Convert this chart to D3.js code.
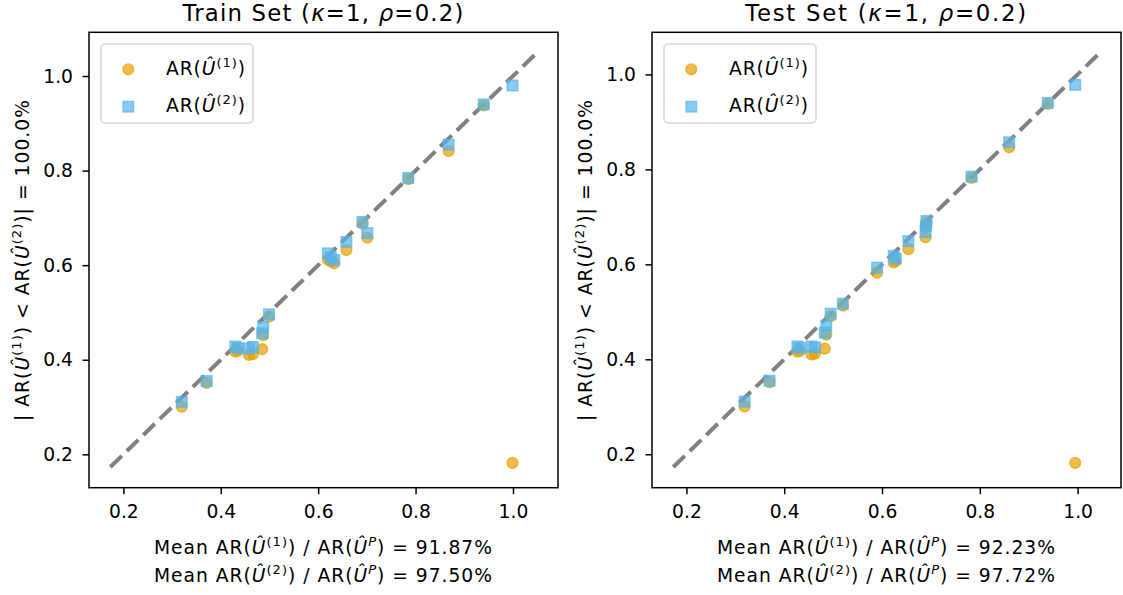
<!DOCTYPE html>
<html>
<head>
<meta charset="utf-8">
<script src="https://cdn.jsdelivr.net/npm/d3@7"></script>
<style>
  html, body { margin: 0; padding: 0; background: #fff; }
  svg { display: block; font-family: "DejaVu Sans", sans-serif; }
</style>
</head>
<body>
<svg id="chart" width="1123" height="595"></svg>
<script>
// ---- data -------------------------------------------------------------
// Accuracy ratio of the reference predictor (x) and of the two estimators (y)
const trainBase = [0.320, 0.371, 0.430, 0.435, 0.458, 0.466, 0.485, 0.487, 0.499, 0.620, 0.626, 0.633, 0.658, 0.691, 0.701, 0.785, 0.868, 0.940, 0.999];
const trainU1   = [0.301, 0.351, 0.417, 0.419, 0.410, 0.412, 0.4225, 0.452, 0.491, 0.612, 0.608, 0.604, 0.632, 0.688, 0.658, 0.782, 0.8415, 0.938, 0.182];
const trainU2   = [0.311, 0.355, 0.428, 0.425, 0.424, 0.427, 0.456, 0.469, 0.496, 0.625, 0.617, 0.611, 0.649, 0.6915, 0.668, 0.7845, 0.855, 0.940, 0.980];

const testBase  = [0.319, 0.370, 0.427, 0.432, 0.456, 0.463, 0.483, 0.486, 0.495, 0.520, 0.590, 0.624, 0.628, 0.654, 0.689, 0.690, 0.691, 0.783, 0.860, 0.939, 0.995];
const testU1    = [0.301, 0.352, 0.416, 0.418, 0.410, 0.412, 0.4225, 0.452, 0.491, 0.513, 0.5825, 0.604, 0.607, 0.632, 0.657, 0.680, 0.688, 0.782, 0.8465, 0.938, 0.182];
const testU2    = [0.311, 0.355, 0.427, 0.424, 0.427, 0.425, 0.456, 0.471, 0.496, 0.517, 0.593, 0.618, 0.612, 0.649, 0.668, 0.681, 0.6915, 0.7845, 0.857, 0.940, 0.978];

// extent of the y = x reference line in each panel
const trainDiag = [0.1732, 1.0487];
const testDiag  = [0.1732, 1.0451];

const tickValues = [0.2, 0.4, 0.6, 0.8, 1.0];
const panelTitles = ["Train", "Test"];
const meanU1 = ["91.87%", "92.23%"];
const meanU2 = ["97.50%", "97.72%"];
const shareAbove = "100.0%";

// ---- layout -----------------------------------------------------------
const svg = d3.select("#chart");
const FS = 18.7;          // tick / label font size
const TITLE_FS = 22.8;
const BOX = { w: 469, top: 32.3, h: 455.4 };
const panelX = [89, 652];
const ORANGE = "#E69F00", BLUE = "#56B4E9";

// small mathtext-like writer: parts = [text, style] with style n | i | s | si
function mathText(sel, parts, fs) {
  let raised = false;
  const shift = 0.42 * fs;
  parts.forEach(([t, st]) => {
    const sup = st === "s" || st === "si";
    const ts = sel.append("tspan").text(t);
    if (sup && !raised) { ts.attr("dy", -shift); raised = true; }
    else if (!sup && raised) { ts.attr("dy", shift); raised = false; }
    if (sup) ts.attr("font-size", fs * 0.7);
    if (st === "i" || st === "si") ts.attr("font-style", "italic");
  });
  return sel;
}

// widen the glyph spacing so a math label occupies the given run length
function spread(sel, target) {
  const node = sel.node();
  const w = node.getComputedTextLength();
  const n = node.textContent.length;
  if (n > 1 && w > 0) sel.attr("letter-spacing", (target - w) / (n - 1));
  return sel;
}

function panel(idx, base, u1, u2, diag) {
  const x0 = panelX[idx];
  const pad = (diag[1] - diag[0]) * 0.05;
  const dom = [diag[0] - pad, diag[1] + pad];
  const x = d3.scaleLinear().domain(dom).range([x0, x0 + BOX.w]);
  const y = d3.scaleLinear().domain(dom).range([BOX.top + BOX.h, BOX.top]);
  const g = svg.append("g");

  // reference line y = x
  g.append("line")
    .attr("x1", x(diag[0])).attr("y1", y(diag[0]))
    .attr("x2", x(diag[1])).attr("y2", y(diag[1]))
    .attr("stroke", "#808080").attr("stroke-width", 4)
    .attr("stroke-dasharray", "16 7");

  // estimator 1: circles
  g.append("g").selectAll("circle").data(base).join("circle")
    .attr("cx", d => x(d)).attr("cy", (d, i) => y(u1[i])).attr("r", 5.4)
    .attr("fill", ORANGE).attr("fill-opacity", 0.7)
    .attr("stroke", ORANGE).attr("stroke-opacity", 0.7).attr("stroke-width", 1.4);

  // estimator 2: squares
  const s = 10.6;
  g.append("g").selectAll("rect").data(base).join("rect")
    .attr("x", d => x(d) - s / 2).attr("y", (d, i) => y(u2[i]) - s / 2)
    .attr("width", s).attr("height", s)
    .attr("fill", BLUE).attr("fill-opacity", 0.7)
    .attr("stroke", BLUE).attr("stroke-opacity", 0.7).attr("stroke-width", 1.4);

  // axes
  const fmt = d3.format(".1f");
  const xa = g.append("g").attr("transform", `translate(0,${BOX.top + BOX.h})`)
    .call(d3.axisBottom(x).tickValues(tickValues).tickFormat(fmt).tickSize(6.5).tickPadding(10.5).tickSizeOuter(0));
  const ya = g.append("g").attr("transform", `translate(${x0},0)`)
    .call(d3.axisLeft(y).tickValues(tickValues).tickFormat(fmt).tickSize(6.5).tickPadding(9.5).tickSizeOuter(0));
  [xa, ya].forEach(a => {
    a.select(".domain").remove();
    a.selectAll("line").attr("stroke", "#000").attr("stroke-width", 1.5);
    a.selectAll("text").attr("font-size", FS).attr("font-family", "DejaVu Sans").attr("fill", "#000");
  });
  xa.selectAll("text").attr("dy", null).attr("y", 30.3);

  // frame
  g.append("rect").attr("x", x0).attr("y", BOX.top).attr("width", BOX.w).attr("height", BOX.h)
    .attr("fill", "none").attr("stroke", "#000").attr("stroke-width", 1.5);

  const cx = x0 + BOX.w / 2;

  // title
  spread(mathText(g.append("text").attr("x", cx).attr("y", 20.7).attr("text-anchor", "middle")
    .attr("font-size", TITLE_FS),
    [[panelTitles[idx] + " Set (", "n"], ["\u03BA", "i"], ["=1, ", "n"], ["\u03C1", "i"], ["=0.2)", "n"]], TITLE_FS), 281);

  // x label (two lines)
  spread(mathText(g.append("text").attr("x", cx).attr("y", 554).attr("text-anchor", "middle").attr("font-size", FS),
    [["Mean AR(", "n"], ["\u00DB", "i"], ["(1)", "s"], [") / AR(", "n"], ["\u00DB", "i"], ["P", "si"], [") = " + meanU1[idx], "n"]], FS), 338);
  spread(mathText(g.append("text").attr("x", cx).attr("y", 581.7).attr("text-anchor", "middle").attr("font-size", FS),
    [["Mean AR(", "n"], ["\u00DB", "i"], ["(2)", "s"], [") / AR(", "n"], ["\u00DB", "i"], ["P", "si"], [") = " + meanU2[idx], "n"]], FS), 338);

  // y label
  spread(mathText(g.append("text").attr("transform", `translate(${x0 - 60},${BOX.top + BOX.h / 2}) rotate(-90)`)
    .attr("text-anchor", "middle").attr("font-size", FS),
    [["| AR(", "n"], ["\u00DB", "i"], ["(1)", "s"], [") < AR(", "n"], ["\u00DB", "i"], ["(2)", "s"], [")| = " + shareAbove, "n"]], FS), 321);

  // legend
  const lg = g.append("g").attr("transform", `translate(${x0 + 12},44)`);
  lg.append("rect").attr("width", 152).attr("height", 79).attr("rx", 4)
    .attr("fill", "#fff").attr("fill-opacity", 0.8).attr("stroke", "#d6d6d6").attr("stroke-width", 1.5);
  lg.append("circle").attr("cx", 27.3).attr("cy", 25.3).attr("r", 5.4)
    .attr("fill", ORANGE).attr("fill-opacity", 0.7)
    .attr("stroke", ORANGE).attr("stroke-opacity", 0.7).attr("stroke-width", 1.4);
  lg.append("rect").attr("x", 27.3 - s / 2).attr("y", 62.7 - s / 2).attr("width", s).attr("height", s)
    .attr("fill", BLUE).attr("fill-opacity", 0.7)
    .attr("stroke", BLUE).attr("stroke-opacity", 0.7).attr("stroke-width", 1.4);
  [["(1)", 31], ["(2)", 68.3]].forEach(([sup, by]) => {
    spread(mathText(lg.append("text").attr("x", 65).attr("y", by).attr("font-size", FS),
      [["AR(", "n"], ["\u00DB", "i"], [sup, "s"], [")", "n"]], FS), 79);
  });
}

panel(0, trainBase, trainU1, trainU2, trainDiag);
panel(1, testBase, testU1, testU2, testDiag);
</script>
</body>
</html>
